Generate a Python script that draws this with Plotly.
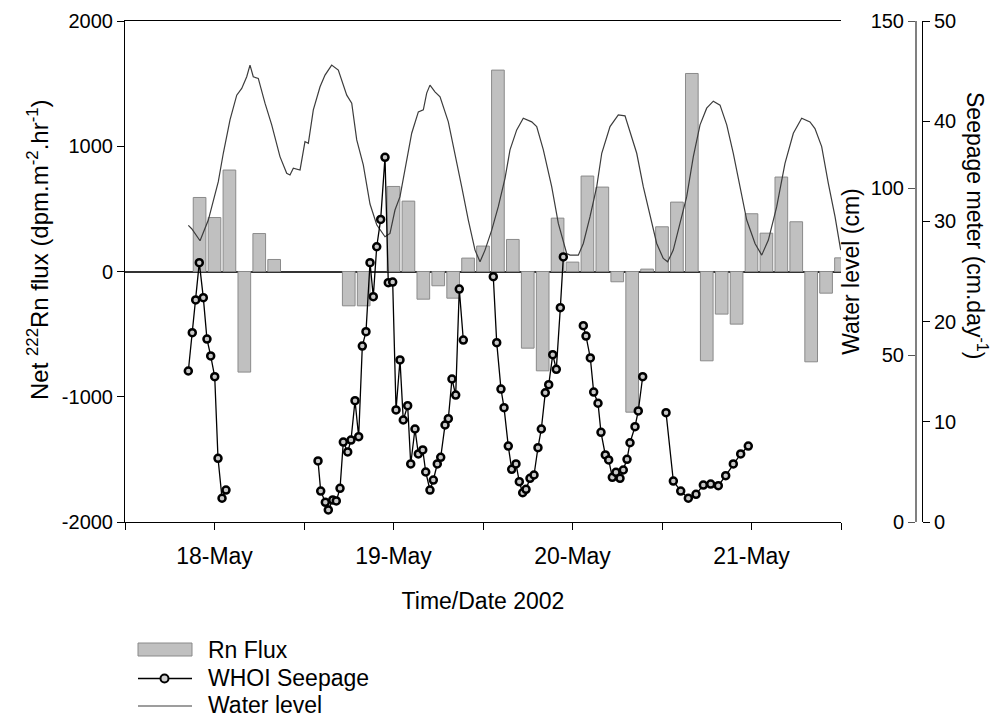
import pandas as pd
import plotly.graph_objects as go

BASE = pd.Timestamp("2002-05-17 12:00")

# ---- Rn flux bars (hours after 17-May 12:00, dpm m-2 hr-1)
rn_hours = [10, 12, 14, 16, 18, 20, 30, 32,
            36, 38, 40, 42, 44, 46, 48, 50, 52, 54, 56, 58,
            60, 62, 64, 66, 68, 70, 72, 74, 76, 78, 80, 82,
            84, 86, 88, 90, 92, 94, 96]
rn_flux = [591, 431, 810, -803, 303, 96, -274, -274,
           679, 562, -221, -114, -213, 107, 203, 1608, 256, -612, -793, 426,
           75, 762, 674, -82, -1123, 19, 357, 554, 1581, -713, -340, -420,
           461, 306, 754, 397, -721, -173, 109]

# ---- Water level (cm)
wl_hours = [8.49, 8.94, 10.06, 11.17, 12.51, 13.18, 14.08, 14.98, 15.65, 16.32,
            16.76, 17.20, 17.87, 18.77, 19.67, 20.34, 20.78, 21.68, 22.12, 22.57,
            23.47, 24.13, 24.58, 25.25, 26.15, 26.82, 27.71, 28.60, 29.73, 30.40,
            31.07, 31.95, 32.85, 33.75, 34.86, 35.53, 36.20, 36.87, 37.54, 38.44,
            39.33, 40.00, 40.45, 40.89, 41.56, 42.24, 43.35, 44.25, 45.14, 46.03,
            46.93, 47.60, 48.27, 49.17, 50.05, 50.95, 51.62, 52.52, 53.40, 54.53,
            55.20, 56.09, 57.21, 58.10, 59.22, 59.67, 60.78, 61.45, 62.35, 63.25,
            63.92, 65.03, 66.14, 67.04, 67.71, 68.61, 69.49, 70.39, 71.29, 72.17,
            72.76, 73.51, 74.41, 75.31, 76.20, 77.10, 77.99, 78.88, 79.78, 80.68,
            81.56, 82.46, 83.36, 84.47, 85.37, 86.26, 87.38, 88.49, 89.61, 90.73,
            91.84, 92.51, 93.41, 94.30, 95.20, 95.96]
wl_cm = [88.8, 87.8, 84.2, 90.4, 101.9, 110.4, 120.4, 127.8, 129.8, 133.3,
         136.8, 133.3, 132.8, 125.4, 118.9, 113.4, 109.4, 104.4, 103.9, 105.9,
         105.4, 113.9, 113.4, 123.4, 130.3, 133.8, 136.8, 135.3, 127.8, 125.4,
         114.4, 106.9, 95.2, 89.0, 85.4, 86.4, 93.4, 97.4, 105.4, 116.4,
         122.8, 123.4, 128.4, 130.8, 128.8, 127.3, 119.8, 110.4, 100.4, 90.4,
         81.4, 77.9, 81.4, 87.4, 94.4, 102.9, 111.4, 117.4, 120.9, 119.8,
         118.4, 111.4, 100.4, 89.4, 80.4, 79.9, 79.9, 83.4, 91.4, 100.4,
         110.4, 118.4, 121.9, 121.6, 117.0, 110.4, 100.4, 91.4, 83.4, 78.9,
         77.9, 81.4, 89.4, 97.4, 109.4, 118.9, 123.9, 126.0, 124.8, 118.9,
         110.4, 100.4, 90.4, 83.4, 79.9, 84.4, 94.4, 107.4, 116.4, 120.9,
         119.8, 117.8, 112.4, 101.4, 91.4, 81.4]

# ---- WHOI seepage meter (cm/day); None separates the deployments
seep_hours = [8.49, 9.02, 9.48, 9.96, 10.50, 10.99, 11.49, 12.03, 12.47, 13.01, 13.54,
              None,
              25.88, 26.24, 26.86, 27.26, 27.85, 28.33, 28.83, 29.27, 29.86, 30.30,
              30.84, 31.33, 31.82, 32.31, 32.85, 33.29, 33.75, 34.28, 34.86, 35.30,
              35.89, 36.34, 36.87, 37.31, 37.90, 38.31, 38.88, 39.33, 39.92, 40.32,
              40.89, 41.34, 41.87, 42.33, 42.91, 43.35, 43.84, 44.34, 44.82, 45.36,
              None,
              49.38, 49.84, 50.41, 50.82, 51.39, 51.85, 52.42, 52.87, 53.32, 53.77,
              54.30, 54.84, 55.37, 55.82, 56.35, 56.81, 57.35, 57.83, 58.37, 58.77,
              None,
              61.45, 61.81, 62.39, 62.84, 63.42, 63.82, 64.40, 64.85, 65.34, 65.83,
              66.37, 66.81, 67.31, 67.71, 68.38, 68.82, 69.41,
              None,
              72.54, 73.52, 74.51, 75.53, 76.56, 77.54, 78.53, 79.55, 80.54, 81.56,
              82.55, 83.57]
seep_cm_day = [15.07, 18.89, 22.16, 25.88, 22.39, 18.26, 16.57, 14.50, 6.36, 2.37, 3.19,
               None,
               6.09, 3.09, 1.96, 1.20, 2.20, 2.10, 3.36, 7.98, 6.99, 8.18,
               12.11, 8.51, 17.56, 18.99, 25.88, 22.49, 27.47, 30.20, 36.40, 23.88,
               23.95, 11.18, 16.17, 10.18, 11.61, 5.79, 9.28, 6.79, 7.19, 4.99,
               3.19, 4.19, 5.79, 6.46, 9.68, 10.31, 14.27, 12.67, 23.25, 18.16,
               None,
               24.48, 17.90, 13.27, 11.41, 7.58, 5.26, 5.79, 4.02, 2.92, 3.26,
               4.36, 4.69, 7.42, 9.28, 12.90, 13.70, 16.70, 15.24, 21.39, 26.45,
               None,
               19.59, 18.56, 16.37, 12.97, 11.85, 8.95, 6.69, 6.19, 4.46, 4.96,
               4.36, 5.19, 6.26, 7.91, 9.51, 11.08, 14.50,
               None,
               10.91, 4.09, 3.09, 2.37, 2.76, 3.69, 3.79, 3.62, 4.62, 5.79,
               6.79, 7.58]

# ---- tick labels / texts
flux_tickvals = [-2000, -1000, 0, 1000, 2000]
flux_ticktext = ["-2000", "-1000", "0", "1000", "2000"]
legend_labels = ["Rn Flux", "WHOI Seepage", "Water level"]
left_title = "Net <sup>222</sup>Rn flux (dpm.m<sup>-2</sup>.hr<sup>-1</sup>)"
seep_title = "Seepage meter (cm.day<sup>-1</sup>)"


def to_time(hours):
    return [None if h is None else BASE + pd.Timedelta(hours=h) for h in hours]


FONT = "Liberation Sans, Arial, sans-serif"
BAR_FILL, BAR_EDGE = "#c0c0c0", "#8a8a8a"
WL_COLOR = "#3c3c3c"

# page has an 8px body margin: figure pixel = window pixel - 8
OFF = 8
W, H = 1001 - 2 * OFF, 726 - 2 * OFF
ML, MT = 125 - OFF, 21 - OFF
PLOT_BOTTOM = 522 - OFF
PAPER_RIGHT = 925 - OFF
MR, MB = W - PAPER_RIGHT, H - PLOT_BOTTOM
PW, PH = W - ML - MR, H - MT - MB


def px(xw):
    return (xw - OFF - ML) / PW


def py(yw):
    return (H - MB - (yw - OFF)) / PH


fig = go.Figure()
fig.add_trace(go.Bar(
    x=to_time(rn_hours), y=rn_flux, name=legend_labels[0], yaxis="y",
    width=1.7 * 3600 * 1000,
    marker=dict(color=BAR_FILL, line=dict(color=BAR_EDGE, width=1)),
    showlegend=False,
))
fig.add_trace(go.Scatter(
    x=to_time(wl_hours), y=wl_cm, name=legend_labels[2], yaxis="y2",
    mode="lines", line=dict(color=WL_COLOR, width=1.2),
    showlegend=False,
))
fig.add_trace(go.Scatter(
    x=to_time(seep_hours), y=seep_cm_day, name=legend_labels[1], yaxis="y3",
    mode="lines+markers", connectgaps=False,
    line=dict(color="black", width=1.3),
    marker=dict(symbol="circle", size=7, color="#c8c8c8",
                line=dict(color="black", width=2.5)),
    showlegend=False,
))

# ---- legend drawn below the plot
shapes = [
    dict(type="rect", xref="paper", yref="paper",
         x0=px(138), x1=px(192), y0=py(656), y1=py(643),
         fillcolor=BAR_FILL, line=dict(color=BAR_EDGE, width=1)),
    dict(type="line", xref="paper", yref="paper",
         x0=px(138), x1=px(192), y0=py(678.5), y1=py(678.5),
         line=dict(color="black", width=1.3)),
    dict(type="circle", xref="paper", yref="paper",
         x0=px(160.5), x1=px(168.5), y0=py(682.5), y1=py(674.5),
         fillcolor="#d0d0d0", line=dict(color="black", width=2)),
    dict(type="line", xref="paper", yref="paper",
         x0=px(138), x1=px(192), y0=py(706), y1=py(706),
         line=dict(color=WL_COLOR, width=1.2)),
]
annotations = [
    dict(text=lab, xref="paper", yref="paper", x=px(206), y=py(yy),
         xanchor="left", yanchor="middle", showarrow=False,
         font=dict(size=23, family=FONT, color="black"))
    for lab, yy in zip(legend_labels, [650, 678, 705])
]
annotations += [
    dict(text=left_title, xref="paper", yref="paper", x=px(38), y=py(250),
         xanchor="center", yanchor="middle", showarrow=False, textangle=-90,
         font=dict(size=24, family=FONT, color="black")),
    dict(text=seep_title, xref="paper", yref="paper", x=px(977), y=py(225),
         xanchor="center", yanchor="middle", showarrow=False, textangle=90,
         font=dict(size=23, family=FONT, color="black")),
]

axis_common = dict(showgrid=False, ticks="outside", ticklen=7, tickwidth=1,
                   tickcolor="black", showline=True, linecolor="black",
                   linewidth=1, automargin=False)

fig.update_layout(
    template="none",
    width=W, height=H,
    paper_bgcolor="white", plot_bgcolor="white",
    margin=dict(l=ML, r=MR, t=MT, b=MB, autoexpand=False),
    font=dict(family=FONT, size=20, color="black"),
    showlegend=False,
    shapes=shapes,
    annotations=annotations,
    xaxis=dict(
        domain=[0, px(841)], type="date",
        range=[BASE, BASE + pd.Timedelta(hours=96)],
        tick0="2002-05-18", dtick=86400000, tickformat="%d-%b",
        tickfont=dict(size=23), mirror=True, zeroline=False,
        ticklabelstandoff=6,
        title=dict(text="Time/Date 2002", font=dict(size=23), standoff=25),
        minor=dict(dtick=43200000, ticks="outside", ticklen=7,
                   tickcolor="black", showgrid=False),
        **axis_common,
    ),
    yaxis=dict(
        range=[-2000, 2000], tickmode="array",
        tickvals=flux_tickvals, ticktext=flux_ticktext,
        tickfont=dict(size=20),
        zeroline=True, zerolinecolor="#333333", zerolinewidth=2,
        **axis_common,
    ),
    yaxis2=dict(
        overlaying="y", anchor="free", position=px(916), side="left",
        range=[0, 150], dtick=50, tickfont=dict(size=20), zeroline=False,
        title=dict(text="Water level (cm)", font=dict(size=23)),
        showgrid=False, ticks="outside", ticklen=7, tickwidth=1, tickcolor="#555555",
        showline=True, linecolor="#808080", linewidth=2, automargin=False,
    ),
    yaxis3=dict(
        overlaying="y", anchor="free", position=px(922), side="right",
        range=[0, 50], dtick=10, tickfont=dict(size=20), zeroline=False,
        **axis_common,
    ),
)

fig.write_html("out.html")
